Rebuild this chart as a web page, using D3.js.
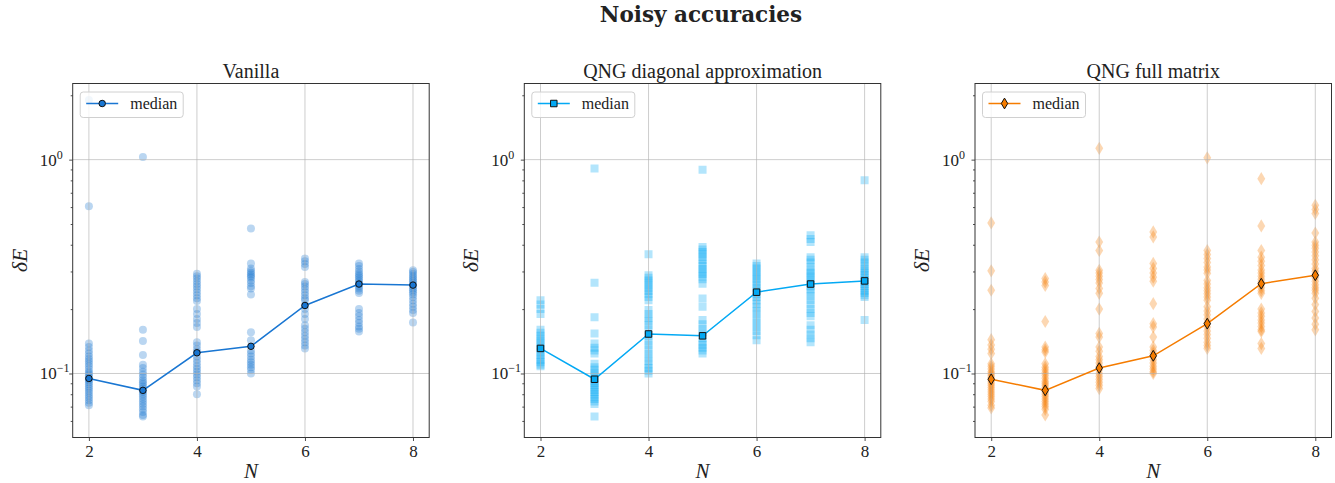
<!DOCTYPE html>
<html>
<head>
<meta charset="utf-8">
<script src="https://cdn.jsdelivr.net/npm/d3@7"></script>
<style>
  body { margin: 0; background: #fff; }
  text { font-family: "Liberation Serif", "DejaVu Serif", serif; fill: #222; }
</style>
</head>
<body>
<div id="chart"></div>
<script>
// valeurs de N (nombre de qubits)
const nValues = [2, 3, 4, 5, 6, 7, 8];

// Vanilla : une liste de runs par N
const vanillaRuns = [
  [1.9, 0.605, 0.138, 0.133, 0.128, 0.124, 0.12, 0.117, 0.114, 0.111, 0.108, 0.105, 0.102, 0.1, 0.098, 0.096, 0.094, 0.093, 0.091, 0.089, 0.087, 0.085, 0.083, 0.081, 0.079, 0.077, 0.075, 0.073, 0.071],
  [1.03, 0.16, 0.142, 0.122, 0.11, 0.106, 0.102, 0.099, 0.096, 0.093, 0.091, 0.089, 0.087, 0.085, 0.083, 0.082, 0.08, 0.078, 0.076, 0.074, 0.072, 0.07, 0.068, 0.066, 0.064, 0.063],
  [0.293, 0.285, 0.278, 0.27, 0.262, 0.255, 0.248, 0.24, 0.232, 0.225, 0.218, 0.2, 0.19, 0.18, 0.172, 0.165, 0.14, 0.135, 0.13, 0.126, 0.12, 0.116, 0.112, 0.108, 0.105, 0.102, 0.099, 0.096, 0.093, 0.09, 0.087, 0.08],
  [0.476, 0.327, 0.31, 0.302, 0.296, 0.29, 0.285, 0.28, 0.272, 0.265, 0.256, 0.25, 0.234, 0.156, 0.143, 0.128, 0.124, 0.12, 0.116, 0.113, 0.11, 0.107, 0.104, 0.1],
  [0.345, 0.335, 0.325, 0.315, 0.268, 0.262, 0.255, 0.248, 0.24, 0.232, 0.225, 0.22, 0.208, 0.2, 0.19, 0.18, 0.168, 0.162, 0.156, 0.15, 0.145, 0.14, 0.135, 0.131],
  [0.327, 0.318, 0.308, 0.3, 0.293, 0.287, 0.282, 0.276, 0.27, 0.265, 0.26, 0.255, 0.25, 0.244, 0.238, 0.2, 0.192, 0.185, 0.178, 0.172, 0.166, 0.162, 0.157],
  [0.304, 0.298, 0.292, 0.286, 0.28, 0.275, 0.27, 0.265, 0.26, 0.255, 0.25, 0.245, 0.24, 0.235, 0.228, 0.22, 0.212, 0.205, 0.198, 0.192, 0.173]
];
const vanillaMedian = [0.0948, 0.0834, 0.125, 0.134, 0.208, 0.262, 0.259];

// QNG approximation diagonale
const diagRuns = [
  [0.22, 0.21, 0.2, 0.19, 0.16, 0.155, 0.15, 0.146, 0.142, 0.138, 0.134, 0.13, 0.126, 0.122, 0.119, 0.116, 0.113, 0.11, 0.108],
  [0.908, 0.266, 0.183, 0.154, 0.138, 0.132, 0.128, 0.124, 0.111, 0.107, 0.104, 0.101, 0.098, 0.095, 0.092, 0.09, 0.088, 0.086, 0.084, 0.082, 0.08, 0.078, 0.076, 0.074, 0.072, 0.063],
  [0.361, 0.288, 0.28, 0.272, 0.265, 0.258, 0.25, 0.243, 0.236, 0.228, 0.22, 0.198, 0.19, 0.182, 0.175, 0.168, 0.16, 0.149, 0.142, 0.136, 0.13, 0.124, 0.119, 0.114, 0.11, 0.106, 0.103, 0.1],
  [0.898, 0.39, 0.38, 0.37, 0.36, 0.35, 0.339, 0.327, 0.318, 0.308, 0.3, 0.292, 0.284, 0.276, 0.263, 0.224, 0.205, 0.178, 0.17, 0.162, 0.156, 0.146, 0.14, 0.136, 0.132, 0.128, 0.124],
  [0.327, 0.318, 0.31, 0.3, 0.292, 0.284, 0.276, 0.268, 0.26, 0.252, 0.245, 0.235, 0.228, 0.22, 0.212, 0.204, 0.196, 0.188, 0.18, 0.172, 0.165, 0.158, 0.151, 0.143],
  [0.443, 0.425, 0.412, 0.35, 0.34, 0.33, 0.315, 0.304, 0.296, 0.288, 0.28, 0.272, 0.264, 0.256, 0.248, 0.24, 0.23, 0.22, 0.21, 0.2, 0.192, 0.185, 0.168, 0.16, 0.152, 0.146, 0.14],
  [0.8, 0.35, 0.34, 0.33, 0.32, 0.31, 0.302, 0.295, 0.288, 0.28, 0.274, 0.268, 0.262, 0.256, 0.25, 0.244, 0.238, 0.232, 0.228, 0.178]
];
const diagMedian = [0.131, 0.094, 0.153, 0.15, 0.24, 0.262, 0.271];

// QNG matrice complète
const fullRuns = [
  [0.506, 0.302, 0.245, 0.144, 0.136, 0.13, 0.124, 0.111, 0.108, 0.105, 0.102, 0.1, 0.098, 0.096, 0.094, 0.092, 0.09, 0.088, 0.086, 0.084, 0.082, 0.08, 0.078, 0.076, 0.074, 0.071, 0.069],
  [0.278, 0.268, 0.258, 0.175, 0.133, 0.129, 0.126, 0.111, 0.107, 0.104, 0.101, 0.098, 0.095, 0.092, 0.09, 0.088, 0.086, 0.084, 0.082, 0.08, 0.078, 0.076, 0.074, 0.072, 0.07, 0.068, 0.064],
  [1.13, 0.412, 0.376, 0.304, 0.295, 0.285, 0.275, 0.265, 0.25, 0.237, 0.2, 0.154, 0.148, 0.133, 0.127, 0.12, 0.116, 0.112, 0.108, 0.104, 0.1, 0.097, 0.094, 0.091, 0.088, 0.085],
  [0.459, 0.435, 0.327, 0.31, 0.295, 0.282, 0.27, 0.212, 0.171, 0.165, 0.148, 0.133, 0.128, 0.124, 0.12, 0.116, 0.112, 0.108, 0.105, 0.102, 0.1],
  [1.02, 0.376, 0.36, 0.345, 0.33, 0.315, 0.305, 0.294, 0.272, 0.262, 0.252, 0.244, 0.236, 0.228, 0.22, 0.205, 0.196, 0.188, 0.18, 0.172, 0.165, 0.158, 0.152, 0.146, 0.14, 0.135, 0.131],
  [0.815, 0.49, 0.376, 0.35, 0.335, 0.32, 0.305, 0.295, 0.285, 0.276, 0.268, 0.26, 0.252, 0.244, 0.237, 0.2, 0.192, 0.185, 0.178, 0.172, 0.166, 0.16, 0.157, 0.138, 0.131],
  [0.612, 0.585, 0.56, 0.454, 0.412, 0.398, 0.385, 0.37, 0.355, 0.34, 0.325, 0.31, 0.3, 0.29, 0.28, 0.27, 0.26, 0.252, 0.245, 0.237, 0.225, 0.21, 0.195, 0.182, 0.17, 0.16]
];
const fullMedian = [0.094, 0.0834, 0.106, 0.121, 0.171, 0.263, 0.288];

const panelTitles = ["Vanilla", "QNG diagonal approximation", "QNG full matrix"];
const xTicks = [2, 4, 6, 8];
const yMajorTicks = [0.1, 1];
const yMinorTicks = [0.06, 0.07, 0.08, 0.09, 0.2, 0.3, 0.4, 0.5, 0.6, 0.7, 0.8, 0.9, 2];

const width = 1335, height = 483;
const plotTop = 83.5, plotBottom = 437.5, panelW = 356.5;
const panelLefts = [72.7, 524.3, 975];

const panels = [
  { runs: vanillaRuns, median: vanillaMedian, color: "#1976d2", marker: "circle" },
  { runs: diagRuns, median: diagMedian, color: "#03a9f4", marker: "square" },
  { runs: fullRuns, median: fullMedian, color: "#f57c00", marker: "thin_diamond" }
];

const svg = d3.select("#chart").append("svg")
  .attr("width", width)
  .attr("height", height);

// titre général
svg.append("text")
  .attr("x", 701).attr("y", 22)
  .attr("text-anchor", "middle")
  .style("font-family", "'DejaVu Serif'")
  .attr("font-size", 21.5).attr("font-weight", "bold")
  .text("Noisy accuracies");

// forme des marqueurs
function markerPath(kind, size) {
  if (kind === "circle") return d3.symbol(d3.symbolCircle, Math.PI * size * size / 4)();
  if (kind === "square") return d3.symbol(d3.symbolSquare, size * size)();
  const h = size * 0.6, w = size * 0.36;
  return `M0,${-h}L${w},0L0,${h}L${-w},0Z`;
}

function drawPanel(p, i) {
  const left = panelLefts[i];
  const x = d3.scaleLinear().domain([1.7, 8.3]).range([left, left + panelW]);
  const y = d3.scaleLog().domain([0.0502, 2.27]).range([plotBottom, plotTop]);

  const g = svg.append("g");

  // clip pour la zone de tracé
  const clipId = "clip" + i;
  g.append("clipPath").attr("id", clipId)
    .append("rect").attr("x", left).attr("y", plotTop)
    .attr("width", panelW).attr("height", plotBottom - plotTop);

  const plot = g.append("g").attr("clip-path", `url(#${clipId})`);

  // nuage des runs
  const points = [];
  p.runs.forEach((vals, k) => vals.forEach(v => points.push({ n: nValues[k], v: v })));
  const ptSize = p.marker === "thin_diamond" ? 11 : 8;
  plot.selectAll(".pt").data(points).enter()
    .append("path")
    .attr("class", "pt")
    .attr("d", markerPath(p.marker, ptSize))
    .attr("transform", d => `translate(${x(d.n)},${y(d.v)})`)
    .attr("fill", p.color)
    .attr("fill-opacity", 0.3);

  // grille
  plot.selectAll(".gx").data(xTicks).enter()
    .append("line")
    .attr("x1", d => x(d)).attr("x2", d => x(d))
    .attr("y1", plotTop).attr("y2", plotBottom)
    .attr("stroke", "#b0b0b0").attr("stroke-width", 0.8).attr("stroke-opacity", 0.8);
  plot.selectAll(".gy").data(yMajorTicks).enter()
    .append("line")
    .attr("x1", left).attr("x2", left + panelW)
    .attr("y1", d => y(d)).attr("y2", d => y(d))
    .attr("stroke", "#b0b0b0").attr("stroke-width", 0.8).attr("stroke-opacity", 0.8);

  // médiane
  const line = d3.line().x((d, k) => x(nValues[k])).y(d => y(d));
  plot.append("path")
    .datum(p.median)
    .attr("d", line)
    .attr("fill", "none")
    .attr("stroke", p.color)
    .attr("stroke-width", 1.5);
  const mSize = p.marker === "thin_diamond" ? 9 : 6.5;
  plot.selectAll(".med").data(p.median).enter()
    .append("path")
    .attr("d", markerPath(p.marker, mSize))
    .attr("transform", (d, k) => `translate(${x(nValues[k])},${y(d)})`)
    .attr("fill", p.color)
    .attr("stroke", "#111").attr("stroke-width", 1);

  // axes
  const xAxis = g.append("g")
    .attr("transform", `translate(0,${plotBottom})`)
    .call(d3.axisBottom(x).tickValues(xTicks).tickSize(3.5).tickPadding(4).tickFormat(d3.format("d")));
  xAxis.select(".domain").remove();
  xAxis.selectAll("text").attr("font-size", 17).attr("fill", "#222");

  const yAxis = g.append("g").attr("transform", `translate(${left},0)`)
    .call(d3.axisLeft(y).tickValues(yMajorTicks).tickSize(3.5).tickFormat(""));
  yAxis.select(".domain").remove();
  const yMinor = g.append("g").attr("transform", `translate(${left},0)`)
    .call(d3.axisLeft(y).tickValues(yMinorTicks).tickSize(2).tickFormat(""));
  yMinor.select(".domain").remove();
  g.selectAll(".tick line").attr("stroke", "#222").attr("stroke-width", 0.8);

  // étiquettes 10^k
  yMajorTicks.forEach(t => {
    const e = Math.round(Math.log10(t));
    g.append("text")
      .attr("x", left - 16).attr("y", y(t) + 6)
      .attr("text-anchor", "end")
      .attr("font-size", 17)
      .text("10");
    const sup = e < 0 ? "\u22121" : String(e);
    g.append("text")
      .attr("x", left - 16).attr("y", y(t) - 1)
      .attr("font-size", 12)
      .text(sup);
  });

  // cadre
  g.append("rect")
    .attr("x", left).attr("y", plotTop)
    .attr("width", panelW).attr("height", plotBottom - plotTop)
    .attr("fill", "none").attr("stroke", "#333").attr("stroke-width", 1);

  // titres
  g.append("text")
    .attr("x", left + panelW / 2).attr("y", plotTop - 6)
    .attr("text-anchor", "middle").attr("font-size", 20)
    .text(panelTitles[i]);
  g.append("text")
    .attr("x", left + panelW / 2).attr("y", 478)
    .attr("text-anchor", "middle").attr("font-size", 21).attr("font-style", "italic")
    .text("N");
  const yl = g.append("text")
    .attr("transform", `translate(${left - 46},${(plotTop + plotBottom) / 2}) rotate(-90)`)
    .attr("text-anchor", "middle").attr("font-size", 22).attr("font-style", "italic");
  yl.append("tspan").text("\u03b4");
  yl.append("tspan").text("E");

  // légende
  const lg = g.append("g").attr("transform", `translate(${left + 7.5},${plotTop + 8.5})`);
  lg.append("rect")
    .attr("width", 103).attr("height", 25.5).attr("rx", 3)
    .attr("fill", "#fff").attr("fill-opacity", 0.8)
    .attr("stroke", "#d0d0d0").attr("stroke-width", 1);
  lg.append("line")
    .attr("x1", 6).attr("x2", 38).attr("y1", 11.5).attr("y2", 11.5)
    .attr("stroke", p.color).attr("stroke-width", 1.5);
  lg.append("path")
    .attr("d", markerPath(p.marker, mSize))
    .attr("transform", "translate(22,11.5)")
    .attr("fill", p.color).attr("stroke", "#111").attr("stroke-width", 1);
  lg.append("text")
    .attr("x", 50).attr("y", 17)
    .attr("font-size", 16)
    .text("median");
}

panels.forEach(drawPanel);
</script>
</body>
</html>
